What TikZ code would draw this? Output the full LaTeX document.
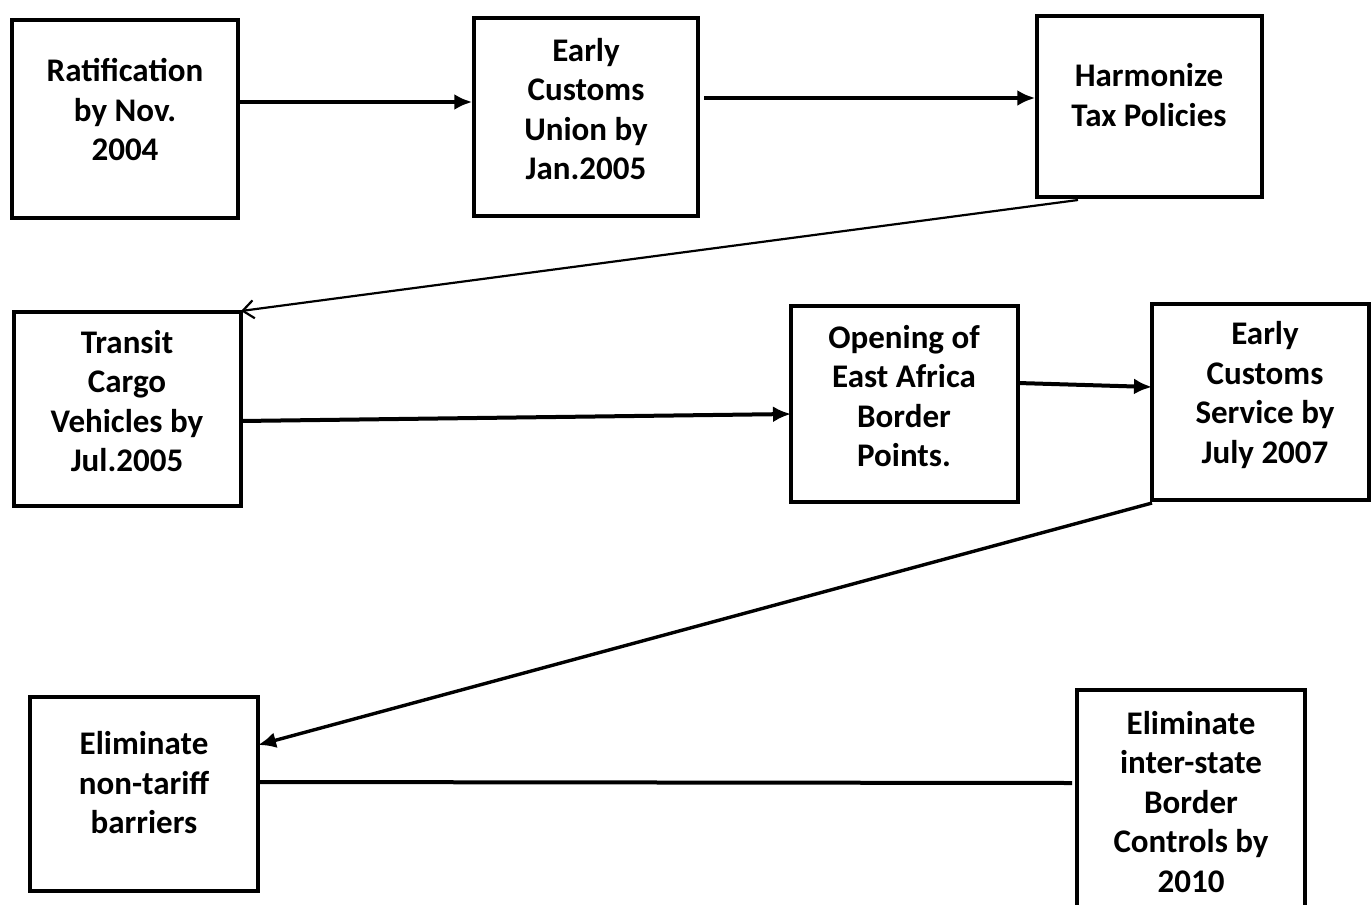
\documentclass[tikz,border=0pt]{standalone}
\usepackage{fontspec}
\setmainfont{Carlito}
\usetikzlibrary{arrows.meta}
\tikzset{
  box/.style={draw, line width=3.5pt, inner sep=0pt},
  lbl/.style={font=\fontsize{33}{39.5}\selectfont\bfseries, align=center, inner sep=0pt},
  conn/.style={line width=4pt, -{Latex[length=18pt,width=16pt]}},
  thinconn/.style={line width=2.2pt, -{Straight Barb[length=11pt,width=18pt,line width=2.2pt]}},
  midconn/.style={line width=3.4pt, -{Latex[length=18pt,width=16pt]}},
  plain/.style={line width=4pt}
}
\begin{document}
\begin{tikzpicture}[x=1pt,y=-1pt]
\useasboundingbox[fill=white] (0,0) rectangle (1371,905);
% boxes
\node[box, minimum width=226pt, minimum height=198pt] (b1) at (125,119) {};
\node[box, minimum width=224pt, minimum height=198pt] (b2) at (586,117) {};
\node[box, minimum width=225pt, minimum height=181pt] (b3) at (1149.5,106.5) {};
\node[box, minimum width=227pt, minimum height=194pt] (b4) at (127.5,409) {};
\node[box, minimum width=227pt, minimum height=196pt] (b5) at (904.5,404) {};
\node[box, minimum width=217pt, minimum height=196pt] (b6) at (1260.5,402) {};
\node[box, minimum width=228pt, minimum height=194pt] (b7) at (144,794) {};
\node[minimum width=228pt, minimum height=230pt, inner sep=0pt] (b8) at (1191,805) {};
\draw[line width=3.5pt] (b8.south west) -- (b8.north west) -- (b8.north east) -- (b8.south east);
% labels
\node[lbl] (t1) at (125,110) {Ratification\\by Nov.\\2004};
\node[lbl] (t2) at (586,109) {Early\\Customs\\Union by\\Jan.2005};
\node[lbl] (t3) at (1149,95) {Harmonize\\Tax Policies};
\node[lbl] (t4) at (127,401) {Transit\\Cargo\\Vehicles by\\Jul.2005};
\node[lbl] (t5) at (904,396) {Opening of\\East Africa\\Border\\Points.};
\node[lbl] (t6) at (1265,395) {Early\\Customs\\Service by\\July 2007};
\node[lbl] (t7) at (144,783) {Eliminate\\non-tariff\\barriers};
\node[lbl] (t8) at (1191,802) {Eliminate\\inter-state\\Border\\Controls by\\2010};
% connectors
\coordinate (c1out) at (238,102);
\draw[conn] (c1out) -- (b2.west |- c1out);
\coordinate (c2out) at (704,98);
\draw[conn] (c2out) -- (b3.west |- c2out);
\coordinate (c3out) at (1078,200);
\coordinate (c4in) at (241,311);
\draw[thinconn] (c3out) -- (c4in);
\coordinate (c4out) at (241,421);
\coordinate (c5in) at (791,414);
\draw[conn] (c4out) -- (c5in);
\coordinate (c5out) at (1018,383);
\coordinate (c6in) at (1152,387);
\draw[conn] (c5out) -- (c6in);
\coordinate (c6out) at (1152,503);
\coordinate (c7in) at (258,745);
\draw[midconn] (c6out) -- (c7in);
\coordinate (c7out) at (258,782);
\coordinate (c8in) at (1072,783);
\draw[plain] (c7out) -- (c8in);
\end{tikzpicture}
\end{document}
